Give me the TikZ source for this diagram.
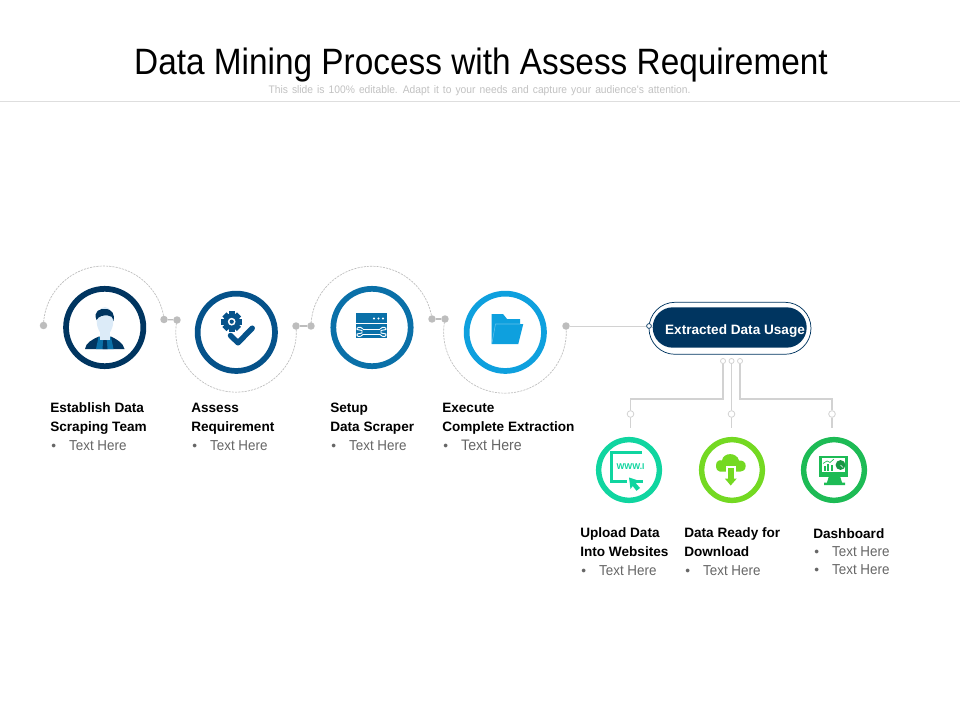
\documentclass[tikz,border=0pt]{standalone}
\usepackage{fontspec}
\setmainfont{Liberation Sans}
\newfontfamily\ttlfont[FakeStretch=.91]{Liberation Sans}
\newfontfamily\subfont[FakeStretch=.94,WordSpace=1.42]{Liberation Sans}
\newfontfamily\headfont[FakeStretch=1]{Liberation Sans}
\newfontfamily\itemfont[FakeStretch=.93]{Liberation Sans}
\usetikzlibrary{shapes.misc}
\definecolor{navy}{HTML}{003560}
\definecolor{ringb}{HTML}{05528A}
\definecolor{ringc}{HTML}{0A70A8}
\definecolor{ringd}{HTML}{0EA0DE}
\definecolor{ringe}{HTML}{10D5A0}
\definecolor{ringf}{HTML}{74D922}
\definecolor{ringg}{HTML}{1DBB55}
\definecolor{dotgray}{HTML}{BDBDBD}
\definecolor{linegray}{HTML}{D2D2D2}
\definecolor{itemgray}{HTML}{666666}
\definecolor{skin}{HTML}{DCEBF8}
\tikzset{
  bigring/.style={circle,draw=#1,line width=4.3pt,fill=white,inner sep=0pt,minimum size=58pt},
  smallring/.style={circle,draw=#1,line width=4.1pt,fill=white,inner sep=0pt,minimum size=45.5pt},
  graydot/.style={circle,fill=dotgray,inner sep=0pt,minimum size=5.6pt},
  tinydot/.style={circle,draw=linegray,line width=.6pt,fill=white,inner sep=0pt,minimum size=3.8pt},
  middot/.style={circle,draw=linegray,line width=.6pt,fill=white,inner sep=0pt,minimum size=5pt},
  arcline/.style={draw=dotgray,line width=.5pt,dash pattern=on 1.6pt off .8pt},
  link/.style={draw=linegray,line width=1.2pt},
  thinlink/.style={draw=linegray,line width=.7pt},
  block/.style={anchor=north west,inner sep=0pt,align=left,font=\fontsize{10.2}{14.2}\headfont},
}
\newcommand{\head}[1]{\textbf{#1}}
\newcommand{\itm}{\makebox[14.2pt][l]{\hspace{.8pt}\textcolor{itemgray}{\textbullet}}\textcolor{itemgray}{\itemfont\fontsize{10.8}{14.2}\selectfont Text Here}}
\begin{document}
\begin{tikzpicture}[x=.75pt,y=.75pt]
\useasboundingbox (0,-720) rectangle (960,0);
\fill[white] (0,-720) rectangle (960,0);
% header
\node[inner sep=0pt,font=\fontsize{27.5}{30}\ttlfont] (title) at (481,-65) {Data Mining Process with Assess Requirement};
\node[inner sep=0pt,text=black!24,font=\fontsize{8.2}{10}\subfont] (subtitle) at (479.5,-90.5) {This slide is 100\% editable. Adapt it to your needs and capture your audience's attention.};
\coordinate (ruleL) at (0,-101.3);
\coordinate (ruleR) at (960,-101.3);
\draw[draw=black!13,line width=.75pt] (ruleL) -- (ruleR);
% dots
\node[graydot] (d1) at (43.5,-325.5) {};
\node[graydot] (d2) at (164,-319.5) {};
\node[graydot] (d3) at (177,-320) {};
\node[graydot] (d4) at (296,-326) {};
\node[graydot] (d5) at (311,-326) {};
\node[graydot] (d6) at (432,-319) {};
\node[graydot] (d7) at (445,-319) {};
\node[graydot] (d8) at (566,-326) {};
% arcs and short links
\draw[arcline] (d1.center) arc[start angle=179,end angle=7.3,radius=45.4pt];
\draw[arcline] (d3.center) arc[start angle=168.6,end angle=365.8,radius=45.2pt];
\draw[arcline] (d5.center) arc[start angle=179,end angle=7.5,radius=45.6pt];
\draw[arcline] (d7.center) arc[start angle=167.9,end angle=365.7,radius=46pt];
\draw[draw=dotgray,line width=.9pt] (d2) -- (d3);
\draw[draw=dotgray,line width=.9pt] (d4) -- (d5);
\draw[draw=dotgray,line width=.9pt] (d6) -- (d7);
% rings
\node[bigring=navy] (c1) at (104.7,-327.5) {};
\node[bigring=ringb] (c2) at (236.3,-332.3) {};
\node[bigring=ringc] (c3) at (372,-327.5) {};
\node[bigring=ringd] (c4) at (505.3,-332.3) {};
\node[smallring=ringe] (c5) at (629,-470) {};
\node[smallring=ringf] (c6) at (732,-470) {};
\node[smallring=ringg] (c7) at (834,-470) {};
% person icon
\fill[navy] (85,-349) .. controls (86,-343) and (91,-340) .. (99,-336.5) -- (111,-336.5) .. controls (118,-340) and (123,-343) .. (124.5,-349) -- cycle;
\fill[ringc] (96,-349) -- (98.5,-337) -- (111,-337) -- (113.5,-349) -- cycle;
\fill[skin] (100,-330) rectangle (110,-340);
\fill[skin] (105,-342) -- (100,-335) -- (110,-335) -- cycle;
\fill[skin] (105,-321) ellipse[x radius=6.2pt,y radius=10.5pt];
\fill[navy] (103.3,-340) -- (106.7,-340) -- (107.5,-349) -- (102.5,-349) -- cycle;
\fill[navy] (96.5,-320) .. controls (93,-311) and (100,-308.5) .. (105,-309) .. controls (112,-309) and (115,-314) .. (113.5,-321) .. controls (112.5,-317) and (111,-315.5) .. (108,-315.5) .. controls (103,-315) and (99,-316) .. (96.5,-320) -- cycle;
% gear and check icon
\fill[ringb] (231.7,-321.7) circle[radius=6.2pt];
\foreach \a in {0,45,...,315}
  \fill[ringb,rotate around={\a:(231.7,-321.7)}] (228.8,-332) rectangle (234.6,-321.7);
\fill[white] (231.7,-321.7) circle[radius=2.9pt];
\fill[ringb] (231.7,-321.7) circle[radius=1.6pt];
\draw[ringb,line width=4.1pt,line cap=round,line join=round] (230.5,-335.5) -- (238,-342.8) -- (252.2,-328.2);
% server and wrench icon
\fill[ringc] (356,-312.7) rectangle (387,-338.3);
\draw[white,line width=.75pt] (356,-323.7) -- (387,-323.7);
\foreach \x in {374,378.5,383} \fill[white] (\x,-318.5) circle[radius=.85pt];
\draw[white,line width=.7pt] (363,-329) -- (380,-329);
\draw[white,line width=.7pt] (363,-334.5) -- (380,-334.5);
\draw[white,line width=.7pt] (363,-329) .. controls (360,-325.5) and (356,-328) .. (357,-329.5) -- (362,-330.5) -- (362,-333) -- (357,-334) .. controls (356,-336.5) and (360,-338) .. (363,-334.5);
\draw[white,line width=.7pt] (380,-329) .. controls (383,-325.5) and (387,-328) .. (386,-329.5) -- (381,-330.5) -- (381,-333) -- (386,-334) .. controls (387,-336.5) and (383,-338) .. (380,-334.5);
% folder icon
\fill[ringd] (491.7,-344) -- (491.7,-314) -- (503,-314) -- (507,-319) -- (520,-319) -- (520,-324) -- (523.3,-324) -- (518.3,-344) -- cycle;
\draw[white!35!ringd,line width=.4pt] (491.9,-343.5) -- (495.5,-324) -- (520,-324);
% www icon
\draw[ringe,line width=1.9pt] (642,-452.3) -- (611.7,-452.3) -- (611.7,-481.7) -- (627,-481.7);
\draw[ringe,line width=1.9pt] (634,-481.7) -- (643,-481.7);
\node[inner sep=0pt,text=ringe,font=\fontsize{6.3}{7}\headfont\bfseries] (www) at (630.5,-467) {WWW.I};
\fill[ringe] (629,-477.5) -- (639.5,-481) -- (635.8,-483.2) -- (640,-488) -- (636.5,-490.8) -- (632.7,-486) -- (630.5,-489) -- cycle;
% cloud download icon
\fill[ringf] (716,-465.5) .. controls (716,-461) and (719.5,-459.5) .. (722,-460.5) .. controls (723,-452) and (737,-452) .. (739,-460.5) .. controls (742,-460) and (746,-462) .. (745.7,-466) .. controls (745.5,-470) and (743,-471.7) .. (740,-471.7) -- (720,-471.7) .. controls (717.5,-471.7) and (716,-469) .. (716,-465.5) -- cycle;
\fill[white] (726,-466) rectangle (735.5,-478);
\fill[white] (722,-477.5) -- (739.5,-477.5) -- (730.7,-487) -- cycle;
\fill[ringf] (728,-467.5) rectangle (733.5,-479);
\fill[ringf] (724.8,-478.5) -- (736.8,-478.5) -- (730.7,-485.5) -- cycle;
% dashboard icon
\fill[ringg] (818.7,-455.7) rectangle (847.7,-476.7);
\fill[ringg] (829,-476) -- (840,-476) -- (842,-482.5) -- (845,-482.5) -- (845,-485) -- (824,-485) -- (824,-482.5) -- (827,-482.5) -- cycle;
\fill[white] (821.7,-458) rectangle (845,-472);
\fill[ringg] (823.5,-470.5) rectangle (825.5,-466);
\fill[ringg] (827,-470.5) rectangle (829,-463.5);
\fill[ringg] (830.5,-470.5) rectangle (832.5,-465);
\draw[ringg,line width=.5pt] (823,-463.5) -- (827,-461) -- (830,-462.5) -- (834,-459);
\fill[ringg!80!black] (840.5,-465) circle[radius=3.7pt];
\draw[white,line width=.5pt] (840.5,-465) -- (843,-467.5);
% pill
\node[rounded rectangle,draw=navy,line width=.55pt,fill=white,inner sep=0pt,minimum width=121.5pt,minimum height=39pt] (pillout) at (730,-328.3) {};
\node[rounded rectangle,fill=navy,text=white,inner sep=0pt,minimum width=115.5pt,minimum height=30.3pt,font=\fontsize{10.2}{13}\headfont\bfseries] (pill) at (729.7,-327.5) {\hspace*{8pt}\raisebox{-5.1pt}[0pt][0pt]{Extracted Data Usage}};
\node[circle,draw=navy,line width=.5pt,fill=white,inner sep=0pt,minimum size=3.6pt] (pd) at (649,-326) {};
\draw[thinlink] (d8) -- (pd);
% tree
\node[tinydot] (s1) at (723,-361) {};
\node[tinydot] (s2) at (731.5,-361) {};
\node[tinydot] (s3) at (740,-361) {};
\node[middot] (t1) at (630.5,-414) {};
\node[middot] (t2) at (731.5,-414) {};
\node[middot] (t3) at (832,-414) {};
\coordinate (j1) at (630.5,-399);
\coordinate (j3) at (832,-399);
\coordinate (e1) at (630.5,-428);
\coordinate (e2) at (731.5,-428);
\coordinate (e3) at (832,-428);
\draw[link] (s1) |- (j1) -- (t1);
\draw[link] (s2) -- (t2);
\draw[link] (s3) |- (j3) -- (t3);
\draw[link] (t1) -- (e1);
\draw[link] (t2) -- (e2);
\draw[link] (t3) -- (e3);
% text blocks
\node[block] (b1) at (50,-399) {\strut\head{Establish Data}\\\head{Scraping Team}\\\itm};
\node[block] (b2) at (191,-399) {\strut\head{Assess}\\\head{Requirement}\\\itm};
\node[block] (b3) at (330,-399) {\strut\head{Setup}\\\head{Data Scraper}\\\itm};
\node[block] (b4) at (442,-399) {\strut\head{Execute}\\\head{Complete Extraction}\\\makebox[14.2pt][l]{\hspace{.8pt}\textcolor{itemgray}{\textbullet}}\textcolor{itemgray}{\itemfont\fontsize{11.4}{14.2}\selectfont Text Here}};
\node[block] (b5) at (580,-524.3) {\strut\head{Upload Data}\\\head{Into Websites}\\\itm};
\node[block] (b6) at (684,-524.3) {\strut\head{Data Ready for}\\\head{Download}\\\itm};
\node[block,font=\fontsize{10.2}{13.5}\headfont] (b7) at (813,-525.6) {\strut\head{Dashboard}\\\itm\\\itm};
\end{tikzpicture}
\end{document}
